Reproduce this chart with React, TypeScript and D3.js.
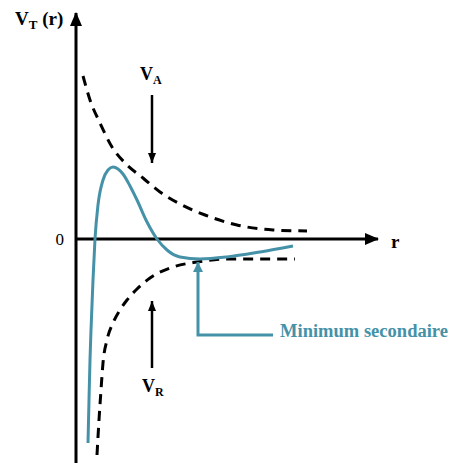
import React from 'react';
import * as d3 from 'd3';

// attractive potential V_A (upper dashed curve)
const vaR = [0.7, 1.4, 2.4, 3.6, 4.9, 6.7, 8.4, 10.4, 12.9, 16.1, 19.7, 23.1];
const vaV = [16.3, 13.9, 11.6, 9.2, 7.6, 6.1, 4.7, 3.5, 2.4, 1.4, 0.9, 0.8];

// repulsive potential V_R (lower dashed curve)
const vrR = [2.1, 2.3, 2.5, 2.7, 3.1, 3.7, 4.4, 5.1, 6.1, 7.4, 9.7, 12.1, 15.1, 18.4, 21.9];
const vrV = [-21.6, -18.1, -15.1, -12.4, -10.1, -8.4, -7.1, -6.1, -5.0, -3.9, -2.8, -2.3, -2.0, -2.0, -2.0];

// total potential V_T
const vtR = [1.2, 1.3, 1.4, 1.5, 1.7, 1.9, 2.2, 2.7, 3.2, 3.7, 4.2, 4.7, 5.4, 6.1, 7.1, 8.1, 9.1, 10.4, 12.4, 15.1, 18.4, 21.7];
const vtV = [-20.4, -16.1, -12.1, -9.1, -4.1, 0, 3.4, 5.9, 6.9, 7.2, 7.0, 6.5, 5.3, 3.9, 1.7, 0, -1.1, -1.8, -2.0, -1.8, -1.3, -0.7];

const TEAL = '#4592a8';
const FONT = '"Liberation Serif", "Times New Roman", serif';

const W = 452;
const H = 463;

const App = () => {
  const x = d3.scaleLinear().domain([0, 30.2]).range([76, 378]);
  const y = d3.scaleLinear().domain([-22, 22]).range([459, 19]);

  const line = d3.line<[number, number]>()
    .x(d => x(d[0]))
    .y(d => y(d[1]))
    .curve(d3.curveMonotoneX);

  const va = line(vaR.map((r, i) => [r, vaV[i]]));
  const vr = line(vrR.map((r, i) => [r, vrV[i]]));
  const vt = line(vtR.map((r, i) => [r, vtV[i]]));

  const x0 = x(0);
  const y0 = y(0);

  return (
    <svg width={W} height={H} style={{ position: 'absolute', left: 0, top: 0, background: '#fff' }}>
      <defs>
        <marker id="axHead" markerUnits="userSpaceOnUse" markerWidth="14" markerHeight="12" refX="13" refY="6" orient="auto">
          <path d="M0,0 L14,6 L0,12 Z" fill="#000" />
        </marker>
        <marker id="smHead" markerUnits="userSpaceOnUse" markerWidth="10" markerHeight="8" refX="10" refY="4" orient="auto">
          <path d="M0,0 L10,4 L0,8 Z" fill="#000" />
        </marker>
        <marker id="tealHead" markerUnits="userSpaceOnUse" markerWidth="10" markerHeight="10" refX="10" refY="5" orient="auto">
          <path d="M0,0 L10,5 L0,10 Z" fill={TEAL} />
        </marker>
      </defs>

      {/* axes */}
      <line x1={x0} y1={H} x2={x0} y2={13} stroke="#000" strokeWidth={3} markerEnd="url(#axHead)" />
      <line x1={x0} y1={y0} x2={378} y2={y0} stroke="#000" strokeWidth={3} markerEnd="url(#axHead)" />

      {/* curves */}
      <path d={va || ''} fill="none" stroke="#000" strokeWidth={3} strokeDasharray="10,7" />
      <path d={vr || ''} fill="none" stroke="#000" strokeWidth={3} strokeDasharray="10,7" />
      <path d={vt || ''} fill="none" stroke={TEAL} strokeWidth={3} />

      {/* V_A / V_R pointers */}
      <line x1={x(7.6)} y1={y(14.4)} x2={x(7.6)} y2={y(7.6)} stroke="#000" strokeWidth={2.5} markerEnd="url(#smHead)" />
      <line x1={x(7.6)} y1={y(-12.9)} x2={x(7.6)} y2={y(-6.2)} stroke="#000" strokeWidth={2.5} markerEnd="url(#smHead)" />

      {/* secondary minimum pointer */}
      <polyline
        points={`${x(19.7)},${y(-9.6)} ${x(12.2)},${y(-9.6)} ${x(12.2)},${y(-2.3)}`}
        fill="none" stroke={TEAL} strokeWidth={3} markerEnd="url(#tealHead)" />

      {/* labels */}
      <g fontFamily={FONT} fontWeight="bold" fill="#000">
        <text x={15} y={25} fontSize={19}>V<tspan fontSize={13} dy={4}>T</tspan><tspan dy={-4}> (r)</tspan></text>
        <text x={140} y={80} fontSize={18}>V<tspan fontSize={12} dy={4}>A</tspan></text>
        <text x={142} y={392} fontSize={18}>V<tspan fontSize={12} dy={4}>R</tspan></text>
        <text x={391} y={248} fontSize={19}>r</text>
      </g>
      <text x={64} y={245} fontFamily={FONT} fontSize={17} textAnchor="end" fill="#000">0</text>
      <text x={280} y={337} fontFamily={FONT} fontWeight="bold" fontSize={18} fill={TEAL} textLength={168} lengthAdjust="spacingAndGlyphs">Minimum secondaire</text>
    </svg>
  );
};

export default App;
